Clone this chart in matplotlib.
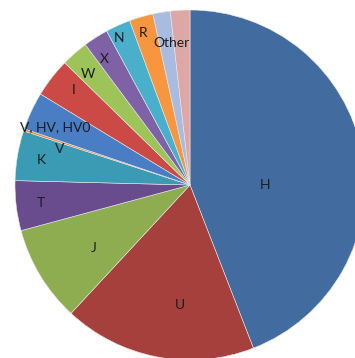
import numpy as np
from matplotlib import pyplot as plt

# Haplogroup shares (percent), clockwise from 12 o'clock
labels = ['H', 'U', 'J', 'T', 'K', 'V', 'V, HV, HV0', 'I', 'W', 'X', 'N', 'R', '', 'Other']
shares = [44.1, 17.8, 8.9, 4.6, 4.6, 0.2, 3.5, 3.6, 2.5, 2.3, 2.3, 2.2, 1.6, 1.8]

colors = ['#426B9F', '#A5403D', '#8DAD50', '#694C8E', '#3C9BB4', '#E8873A',
          '#4A7EC4', '#CB4A45', '#9CC458', '#7F62A5', '#4AAFCB', '#F7963F',
          '#A9BCE0', '#DDA7A6']

# label placement: radius (fraction of pie radius) and clockwise angle nudge (deg)
label_r = [0.43, 0.69, 0.66, 0.86, 0.86, 0.77, 0.84, 0.86, 0.86, 0.87, 0.93, 0.91, 0.8, 0.82]
label_nudge = [10.6, -6, -2, 0, 0, -3, -2, 1.5, -1.5, -1.5, -1.5, -1, 0, -4]

fig = plt.figure(figsize=(3.55, 3.58), dpi=100)
# pie centre sits at roughly (190, 185) px, radius 175 px, partly off the canvas
ax = fig.add_axes([15 / 355, (358 - 185 - 175) / 358, 350 / 355, 350 / 358])

wedges, _ = ax.pie(shares, colors=colors, startangle=90, counterclock=False,
                   radius=1, wedgeprops=dict(edgecolor='#e8e8e8', linewidth=0.4))
ax.set_xlim(-1, 1)
ax.set_ylim(-1, 1)
ax.set_aspect('equal')
ax.axis('off')

for w, lab, r, nudge in zip(wedges, labels, label_r, label_nudge):
    if not lab:
        continue
    mid = np.deg2rad((w.theta1 + w.theta2) / 2 - nudge)
    ax.text(r * np.cos(mid), r * np.sin(mid), lab, ha='center', va='center',
            fontsize=10, family='Lato', color='#1c1c1c')

fig.savefig('out.png', dpi=100)
